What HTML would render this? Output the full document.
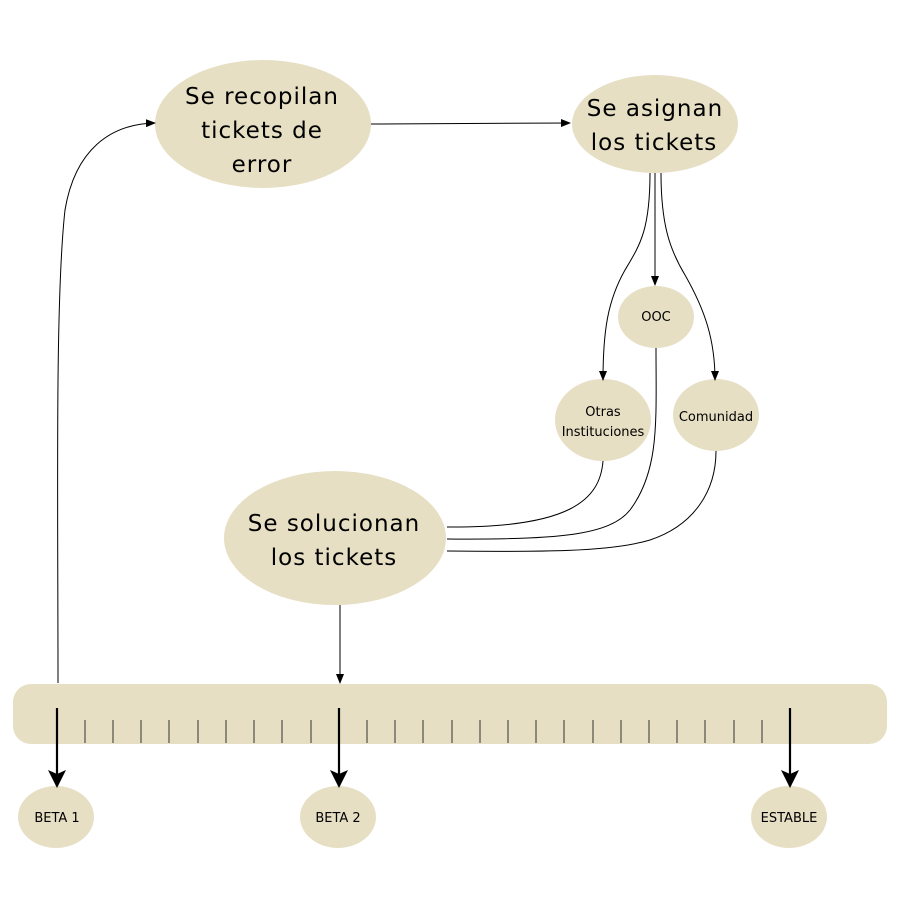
<!DOCTYPE html>
<html><head><meta charset="utf-8"><style>body{margin:0;background:#fff}svg{display:block}text{font-family:"DejaVu Sans","Liberation Sans",sans-serif;fill:#000;text-anchor:middle}</style></head><body>
<svg width="900" height="900" viewBox="0 0 900 900" xmlns="http://www.w3.org/2000/svg">
<defs>
<marker id="a" markerWidth="10" markerHeight="8" refX="9" refY="4" orient="auto" markerUnits="userSpaceOnUse"><path d="M0,0L10,4L0,8z" fill="#000"/></marker>
<marker id="b" markerWidth="18" markerHeight="22" refX="16" refY="9" orient="auto" markerUnits="userSpaceOnUse"><path d="M0,0L18,9L0,18L4,9z" fill="#000"/></marker>
</defs>
<g fill="#e6dfc3">
<ellipse cx="263" cy="124" rx="108" ry="64"/>
<ellipse cx="655" cy="124" rx="83" ry="49"/>
<ellipse cx="656" cy="317" rx="38" ry="31"/>
<ellipse cx="603" cy="420" rx="48" ry="41"/>
<ellipse cx="716" cy="415" rx="43" ry="36"/>
<ellipse cx="335" cy="538" rx="111" ry="67"/>
<rect x="13" y="684" width="874" height="60" rx="18"/>
<ellipse cx="56" cy="817" rx="38" ry="31"/>
<ellipse cx="338" cy="817" rx="38" ry="31"/>
<ellipse cx="789" cy="817" rx="38" ry="31"/>
</g>
<g fill="none" stroke="#000" stroke-width="1">
<path d="M371,124 L570,123" marker-end="url(#a)"/>
<path d="M58,683 C58,500 55,300 65,210 C75,150 110,124 155,123" marker-end="url(#a)"/>
<path d="M655,173 L655,285" marker-end="url(#a)"/>
<path d="M650,173 C650,230 640,245 625,270 C608,300 603,330 603,380" marker-end="url(#a)"/>
<path d="M661,173 C661,225 670,250 685,275 C705,310 715,340 715,380" marker-end="url(#a)"/>
<path d="M603,461 C600,500 570,528 447,527"/>
<path d="M656,348 C656,420 660,470 630,510 C610,535 560,540 447,539"/>
<path d="M716,451 C716,490 695,525 650,540 C610,552 540,552 447,551"/>
<path d="M340,605 L340,683" marker-end="url(#a)"/>
</g>
<g stroke="#000" stroke-width="2.2" fill="none">
<path d="M57,708 L57,786" marker-end="url(#b)"/>
<path d="M339,708 L339,786" marker-end="url(#b)"/>
<path d="M790,708 L790,786" marker-end="url(#b)"/>
</g>
<g stroke="#333" stroke-width="1">
<path d="M85,720V743M113,720V743M141,720V743M169,720V743M198,720V743M226,720V743M254,720V743M282,720V743M311,720V743M367,720V743M395,720V743M423,720V743M452,720V743M480,720V743M508,720V743M536,720V743M564,720V743M593,720V743M621,720V743M649,720V743M677,720V743M705,720V743M734,720V743M762,720V743"/>
</g>
<g font-size="23" letter-spacing="1">
<text x="262" y="104">Se recopilan</text>
<text x="262" y="138">tickets de</text>
<text x="262" y="172">error</text>
<text x="655" y="116">Se asignan</text>
<text x="654" y="150">los tickets</text>
<text x="334" y="531">Se solucionan</text>
<text x="334" y="565">los tickets</text>
</g>
<g font-size="13">
<text x="656" y="321">OOC</text>
<text x="603" y="416">Otras</text>
<text x="603" y="436">Instituciones</text>
<text x="716" y="421">Comunidad</text>
<text x="57" y="822">BETA 1</text>
<text x="338" y="822">BETA 2</text>
<text x="789" y="822">ESTABLE</text>
</g>
</svg>
</body></html>
